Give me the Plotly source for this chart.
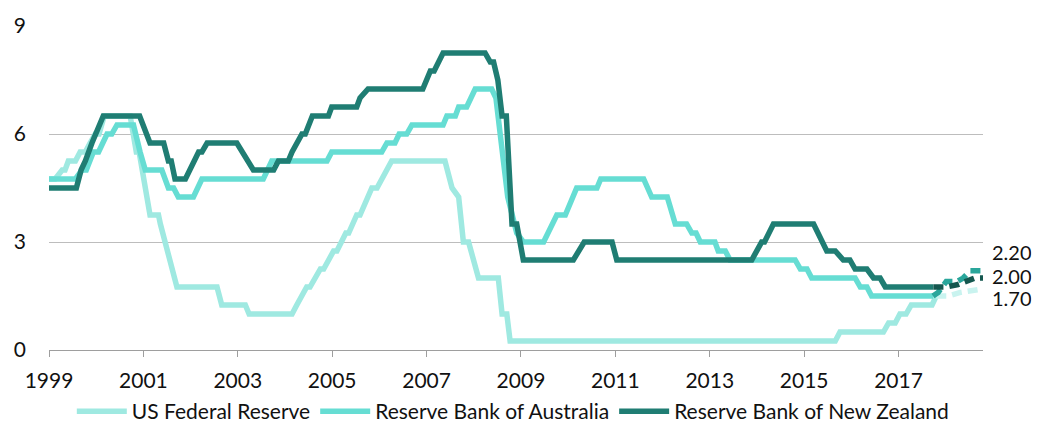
import plotly.graph_objects as go

# Policy rates (%), vertices of each stepped series as decimal years
fed_x = [1999.00, 1999.13, 1999.28, 1999.34, 1999.41, 1999.56, 1999.66, 1999.77, 1999.87, 1999.98,
         2000.06, 2000.17, 2000.72, 2000.78, 2000.85, 2000.91, 2001.11, 2001.14, 2001.32, 2001.36,
         2001.71, 2002.56, 2002.66, 2003.16, 2003.24, 2004.15, 2004.25, 2004.46, 2004.53, 2004.75,
         2004.82, 2005.03, 2005.10, 2005.29, 2005.35, 2005.52, 2005.59, 2005.84, 2005.95, 2006.26,
         2007.39, 2007.54, 2007.68, 2007.78, 2007.89, 2008.03, 2008.10, 2008.52, 2008.60, 2008.70,
         2008.77, 2015.66, 2015.76, 2016.68, 2016.79, 2016.93, 2017.03, 2017.16, 2017.27, 2017.71,
         2017.80]
fed_y = [4.75, 4.75, 5.00, 5.00, 5.25, 5.25, 5.50, 5.50, 5.75, 6.00,
         6.00, 6.50, 6.50, 6.00, 5.50, 5.50, 4.00, 3.75, 3.75, 3.50,
         1.75, 1.75, 1.25, 1.25, 1.00, 1.00, 1.25, 1.75, 1.75, 2.25,
         2.25, 2.75, 2.75, 3.25, 3.25, 3.75, 3.75, 4.50, 4.50, 5.25,
         5.25, 4.50, 4.25, 3.00, 3.00, 2.25, 2.00, 2.00, 1.00, 1.00,
         0.25, 0.25, 0.50, 0.50, 0.75, 0.75, 1.00, 1.00, 1.25, 1.25,
         1.50]

rba_x = [1999.00, 1999.56, 1999.70, 1999.79, 1999.94, 2000.05, 2000.23, 2000.33, 2000.44, 2000.79,
         2000.93, 2001.04, 2001.39, 2001.53, 2001.64, 2001.74, 2002.06, 2002.24, 2003.54, 2003.72,
         2004.89, 2004.99, 2006.05, 2006.16, 2006.33, 2006.42, 2006.58, 2006.69, 2007.35, 2007.43,
         2007.61, 2007.68, 2007.85, 2008.03, 2008.38, 2008.47, 2008.56, 2008.63, 2008.72, 2008.91,
         2009.05, 2009.48, 2009.76, 2009.94, 2010.18, 2010.61, 2010.69, 2011.60, 2011.77, 2012.10,
         2012.20, 2012.27, 2012.51, 2012.62, 2012.71, 2012.80, 2013.11, 2013.18, 2013.33, 2013.43,
         2014.81, 2014.92, 2015.06, 2015.16, 2016.08, 2016.19, 2016.33, 2016.43, 2017.73]
rba_y = [4.75, 4.75, 5.00, 5.00, 5.50, 5.50, 6.00, 6.00, 6.25, 6.25,
         5.50, 5.00, 5.00, 4.50, 4.50, 4.25, 4.25, 4.75, 4.75, 5.25,
         5.25, 5.50, 5.50, 5.75, 5.75, 6.00, 6.00, 6.25, 6.25, 6.50,
         6.50, 6.75, 6.75, 7.25, 7.25, 7.00, 6.00, 5.25, 4.25, 3.25,
         3.00, 3.00, 3.75, 3.75, 4.50, 4.50, 4.75, 4.75, 4.25, 4.25,
         3.75, 3.50, 3.50, 3.25, 3.25, 3.00, 3.00, 2.75, 2.75, 2.50,
         2.50, 2.25, 2.25, 2.00, 2.00, 1.75, 1.75, 1.50, 1.50]

rbnz_x = [1999.00, 1999.58, 1999.68, 1999.77, 1999.91, 1999.98, 2000.15, 2000.92, 2001.14, 2001.43,
          2001.53, 2001.59, 2001.67, 2001.89, 2002.17, 2002.24, 2002.35, 2002.98, 2003.09, 2003.33,
          2003.76, 2003.86, 2004.07, 2004.15, 2004.36, 2004.43, 2004.58, 2004.92, 2004.99, 2005.52,
          2005.59, 2005.76, 2006.92, 2007.08, 2007.16, 2007.35, 2008.24, 2008.35, 2008.42, 2008.51,
          2008.60, 2008.69, 2008.75, 2008.81, 2008.91, 2009.05, 2010.11, 2010.34, 2010.93, 2011.03,
          2013.89, 2014.10, 2014.16, 2014.35, 2015.20, 2015.38, 2015.48, 2015.66, 2015.83, 2015.97,
          2016.08, 2016.33, 2016.47, 2016.61, 2016.72, 2017.74]
rbnz_y = [4.50, 4.50, 5.00, 5.25, 5.75, 6.00, 6.50, 6.50, 5.75, 5.75,
          5.25, 5.25, 4.75, 4.75, 5.50, 5.50, 5.75, 5.75, 5.50, 5.00,
          5.00, 5.25, 5.25, 5.50, 6.00, 6.00, 6.50, 6.50, 6.75, 6.75,
          7.00, 7.25, 7.25, 7.75, 7.75, 8.25, 8.25, 8.00, 8.00, 7.50,
          6.50, 6.50, 5.00, 3.50, 3.50, 2.50, 2.50, 3.00, 3.00, 2.50,
          2.50, 3.00, 3.00, 3.50, 3.50, 3.00, 2.75, 2.75, 2.50, 2.50,
          2.25, 2.25, 2.00, 2.00, 1.75, 1.75]

# Projected paths (dashed)
fed_proj_x = [2017.80, 2018.05, 2018.31, 2018.52, 2018.67, 2018.79]
fed_proj_y = [1.50, 1.50, 1.60, 1.65, 1.70, 1.70]
rba_proj_x = [2017.73, 2017.84, 2018.01, 2018.24, 2018.37, 2018.52, 2018.79]
rba_proj_y = [1.50, 1.60, 1.90, 1.90, 2.00, 2.20, 2.20]
rbnz_proj_x = [2017.74, 2018.01, 2018.26, 2018.47, 2018.62, 2018.79]
rbnz_proj_y = [1.75, 1.75, 1.82, 1.93, 2.00, 2.00]

x_ticks = [1999, 2001, 2003, 2005, 2007, 2009, 2011, 2013, 2015, 2017]
y_ticks = [0, 3, 6, 9]

FED_C, RBA_C, RBNZ_C = "#9fe9e1", "#66ddd3", "#1f7d73"
FED_P, RBA_P, RBNZ_P = "#c9f3ef", "#2aa69b", "#15574f"
FONT = "Lato, 'Liberation Sans', sans-serif"
LW = 5.5

fig = go.Figure()
for name, xs, ys, col in [("US Federal Reserve", fed_x, fed_y, FED_C),
                          ("Reserve Bank of Australia", rba_x, rba_y, RBA_C),
                          ("Reserve Bank of New Zealand", rbnz_x, rbnz_y, RBNZ_C)]:
    fig.add_trace(go.Scatter(x=xs, y=ys, mode="lines", name=name,
                             line=dict(color=col, width=LW), hoverinfo="skip"))

for xs, ys, col in [(fed_proj_x, fed_proj_y, FED_P),
                    (rba_proj_x, rba_proj_y, RBA_P),
                    (rbnz_proj_x, rbnz_proj_y, RBNZ_P)]:
    fig.add_trace(go.Scatter(x=xs, y=ys, mode="lines", showlegend=False,
                             line=dict(color=col, width=LW, dash="10px,6px"),
                             hoverinfo="skip"))

# End-of-projection value labels, spread apart so they stay readable
label_shift = {"rba": 19, "rbnz": 3, "fed": -9}
for key, val in [("rba", rba_proj_y[-1]), ("rbnz", rbnz_proj_y[-1]), ("fed", fed_proj_y[-1])]:
    fig.add_annotation(x=1, xref="paper", y=val, yref="y", text=f"{val:.2f}",
                       showarrow=False, xanchor="left", xshift=8, yshift=label_shift[key],
                       height=21, borderpad=0, valign="middle",
                       font=dict(family=FONT, size=20, color="#111111"))

fig.update_layout(
    width=1037, height=426,
    margin=dict(l=49, r=54, t=26, b=76, autoexpand=False),
    paper_bgcolor="white", plot_bgcolor="white",
    font=dict(family=FONT, size=21, color="#111111"),
    legend=dict(orientation="h", x=0.495, xanchor="center", xref="container",
                y=-0.19, yanchor="middle", yref="paper",
                itemwidth=50, font=dict(size=21), tracegroupgap=0,
                bgcolor="rgba(0,0,0,0)"),
    showlegend=True,
)
fig.update_xaxes(range=[1999, 2018.79], tickvals=x_ticks, ticktext=[str(t) for t in x_ticks],
                 showgrid=False, zeroline=False, showline=True, linecolor="#9e9e9e", linewidth=1,
                 ticks="outside", ticklen=6, tickcolor="#9e9e9e", tickwidth=1,
                 ticklabelstandoff=6)
fig.update_yaxes(range=[0, 9], tickvals=y_ticks, showgrid=True, gridcolor="#bdbdbd", gridwidth=1,
                 zeroline=False, showline=False, ticks="", ticklabelstandoff=22)

fig.write_html("out.html")
